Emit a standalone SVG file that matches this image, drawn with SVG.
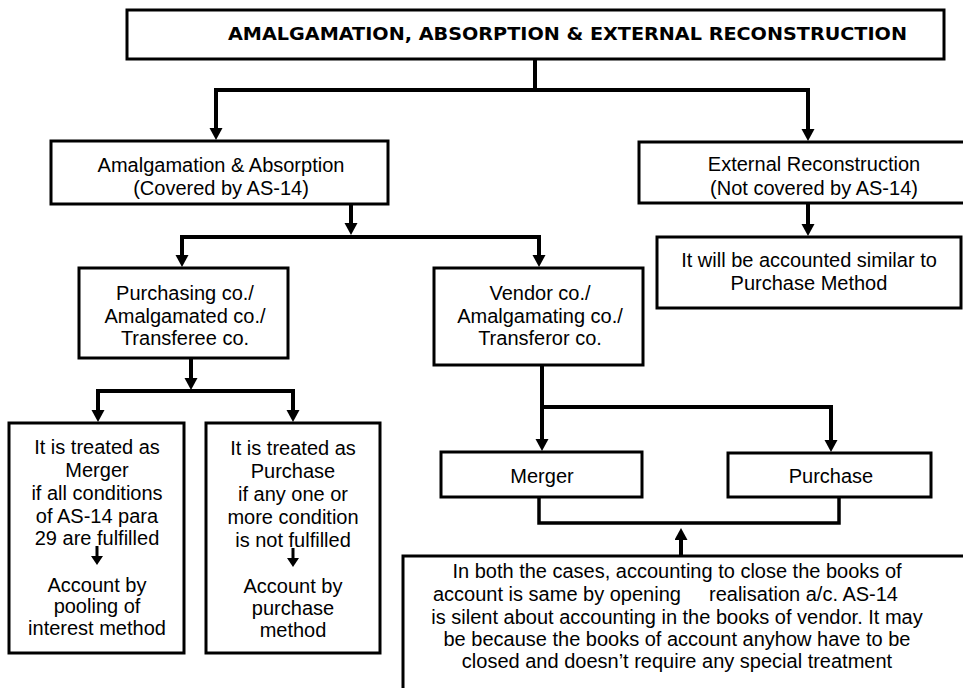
<svg xmlns="http://www.w3.org/2000/svg" width="963" height="688" viewBox="0 0 963 688">
<style>
.box{fill:#fff;stroke:#000;stroke-width:3}
.t{font-family:"Liberation Sans",Arial,sans-serif;font-size:20px;fill:#000;text-anchor:middle}
.ts{font-family:"Liberation Sans",Arial,sans-serif;font-size:20px;fill:#000}
.title{font-family:"DejaVu Sans",Verdana,sans-serif;font-size:18px;font-weight:bold;fill:#000}
.c{fill:none;stroke:#000;stroke-width:4;stroke-linejoin:miter}
.b{fill:none;stroke:#000;stroke-width:3.5}
</style>
<defs>
<marker id="ah" markerUnits="userSpaceOnUse" markerWidth="14" markerHeight="14" refX="4" refY="6.5" orient="auto">
<path d="M0,0 L12,6.5 L0,13 z" fill="#000"/>
</marker>
</defs>
<rect x="0" y="0" width="963" height="688" fill="#fff"/>

<g id="title">
<rect class="box" x="127" y="10" width="817" height="49"/>
<text class="title" x="228" y="40" textLength="679" lengthAdjust="spacingAndGlyphs">AMALGAMATION, ABSORPTION &amp; EXTERNAL RECONSTRUCTION</text>
</g>

<g id="amalgamation">
<rect class="box" x="51" y="141" width="337" height="63"/>
<text class="t" x="221" y="172">Amalgamation &amp; Absorption</text>
<text class="t" x="221" y="195">(Covered by AS-14)</text>
</g>

<g id="external">
<rect class="box" x="639" y="142" width="400" height="61"/>
<text class="t" x="814" y="171">External Reconstruction</text>
<text class="t" x="814" y="195">(Not covered by AS-14)</text>
</g>

<g id="external-method">
<rect class="box" x="657" y="237" width="304" height="71"/>
<text class="t" x="809" y="267">It will be accounted similar to</text>
<text class="t" x="809" y="290">Purchase Method</text>
</g>

<g id="purchasing">
<rect class="box" x="79" y="268" width="209" height="90"/>
<text class="t" x="185" y="300">Purchasing co./</text>
<text class="t" x="185" y="323">Amalgamated co./</text>
<text class="t" x="185" y="345">Transferee co.</text>
</g>

<g id="vendor">
<rect class="box" x="434" y="268" width="209" height="97"/>
<text class="t" x="540" y="300">Vendor co./</text>
<text class="t" x="540" y="323">Amalgamating co./</text>
<text class="t" x="540" y="345">Transferor co.</text>
</g>

<g id="merger-treatment">
<rect class="box" x="9" y="423" width="175" height="230"/>
<text class="t" x="97" y="454">It is treated as</text>
<text class="t" x="97" y="477">Merger</text>
<text class="t" x="97" y="500">if all conditions</text>
<text class="t" x="97" y="523">of AS-14 para</text>
<text class="t" x="97" y="545">29 are fulfilled</text>
<path d="M97,546 V557" stroke="#000" stroke-width="3"/>
<path d="M91,556 L103,556 L97,565 z" fill="#000"/>
<text class="t" x="97" y="592">Account by</text>
<text class="t" x="97" y="613">pooling of</text>
<text class="t" x="97" y="635">interest method</text>
</g>

<g id="purchase-treatment">
<rect class="box" x="206" y="423" width="174" height="230"/>
<text class="t" x="293" y="455">It is treated as</text>
<text class="t" x="293" y="478">Purchase</text>
<text class="t" x="293" y="501">if any one or</text>
<text class="t" x="293" y="524">more condition</text>
<text class="t" x="293" y="547">is not fulfilled</text>
<path d="M293,548 V559" stroke="#000" stroke-width="3"/>
<path d="M287,558 L299,558 L293,567 z" fill="#000"/>
<text class="t" x="293" y="593">Account by</text>
<text class="t" x="293" y="615">purchase</text>
<text class="t" x="293" y="637">method</text>
</g>

<g id="merger">
<rect class="box" x="441" y="452" width="201" height="45"/>
<text class="t" x="542" y="483">Merger</text>
</g>

<g id="purchase">
<rect class="box" x="728" y="453" width="203" height="44"/>
<text class="t" x="831" y="483">Purchase</text>
</g>

<g id="note">
<rect class="box" x="403" y="556" width="600" height="200"/>
<text class="t" x="677" y="578">In both the cases, accounting to close the books of</text>
<text class="ts" y="601"><tspan x="433">account is same by opening</tspan><tspan x="709">realisation a/c. AS-14</tspan></text>
<text class="t" x="677" y="624">is silent about accounting in the books of vendor. It may</text>
<text class="t" x="677" y="646">be because the books of account anyhow have to be</text>
<text class="t" x="677" y="668">closed and doesn’t require any special treatment</text>
</g>

<g id="connectors">
<path class="c" d="M535,59 V90 H216 V132" marker-end="url(#ah)"/>
<path class="c" d="M535,90 H808 V133" marker-end="url(#ah)"/>
<path class="c" d="M351,205 V227" marker-end="url(#ah)"/>
<path class="c" d="M351,237 H182 V259" marker-end="url(#ah)"/>
<path class="c" d="M351,237 H539 V259" marker-end="url(#ah)"/>
<path class="c" d="M808,204 V228" marker-end="url(#ah)"/>
<path class="c" d="M191,359 V382" marker-end="url(#ah)"/>
<path class="c" d="M191,391 H98 V414" marker-end="url(#ah)"/>
<path class="c" d="M191,391 H293 V414" marker-end="url(#ah)"/>
<path class="c" d="M542,366 V443" marker-end="url(#ah)"/>
<path class="c" d="M542,407 H831 V444" marker-end="url(#ah)"/>
<path class="b" d="M539,498 V523 H839 V498"/>
<path class="c" d="M681,555 V536" marker-end="url(#ah)"/>
</g>
</svg>
